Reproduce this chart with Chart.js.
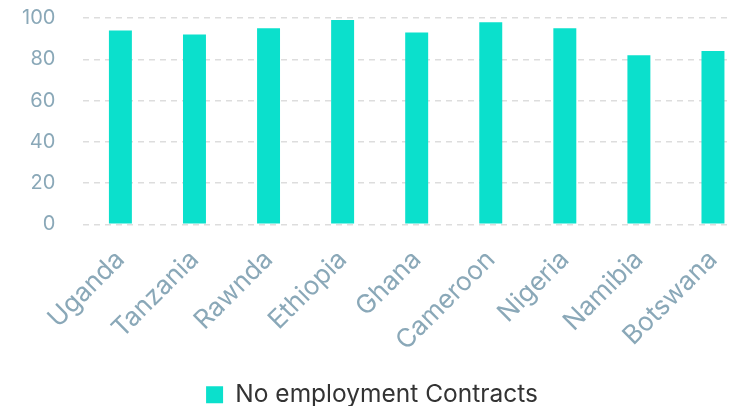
<!DOCTYPE html>
<html>
<head>
<meta charset="utf-8">
<script src="https://cdn.jsdelivr.net/npm/chart.js@4.4.1/dist/chart.umd.min.js"></script>
<style>
  html, body { margin: 0; padding: 0; background: #fff; overflow: hidden; }
  #wrap { position: absolute; left: -6px; top: -22px; width: 776px; height: 439px; }
</style>
</head>
<body>
<div id="wrap"><canvas id="grafico"></canvas></div>
<script>
// Dados do gráfico
var paises = ["Uganda", "Tanzania", "Rawnda", "Ethiopia", "Ghana", "Cameroon", "Nigeria", "Namibia", "Botswana"];
var semContrato = [94, 92, 95, 99, 93, 98, 95, 82, 84];
var nomeSerie = "No employment Contracts";

var corBarra = "#0be0cc";
var corTexto = "#8aa8b8";
var fonte = "Inter";

var ctx = document.getElementById("grafico").getContext("2d");

new Chart(ctx, {
  type: "bar",
  data: {
    labels: paises,
    datasets: [
      {
        label: nomeSerie,
        backgroundColor: corBarra,
        data: semContrato,
        categoryPercentage: 1,
        barPercentage: 0.31,
      },
    ],
  },
  options: {
    responsive: true,
    maintainAspectRatio: false,
    animation: false,
    layout: {
      padding: { top: 0, right: 20, bottom: 0, left: 0 },
    },
    plugins: {
      tooltip: { enabled: false },
      legend: {
        display: true,
        position: "bottom",
        labels: {
          boxWidth: 17,
          boxHeight: 17,
          padding: 14,
          color: "#333",
          font: {
            family: fonte,
            size: 24.5,
          },
        },
      },
    },
    scales: {
      x: {
        grid: { display: false },
        border: { display: false },
        ticks: {
          minRotation: 45,
          maxRotation: 45,
          padding: 12,
          color: corTexto,
          font: {
            family: fonte,
            size: 26,
          },
        },
      },
      y: {
        min: 0,
        max: 100,
        border: { display: false, dash: [6, 5] },
        grid: {
          color: "#dddddd",
          lineWidth: 1.5,
          drawTicks: false,
        },
        ticks: {
          stepSize: 20,
          padding: 28,
          color: corTexto,
          font: {
            family: fonte,
            size: 20,
          },
        },
      },
    },
  },
});
</script>
</body>
</html>
